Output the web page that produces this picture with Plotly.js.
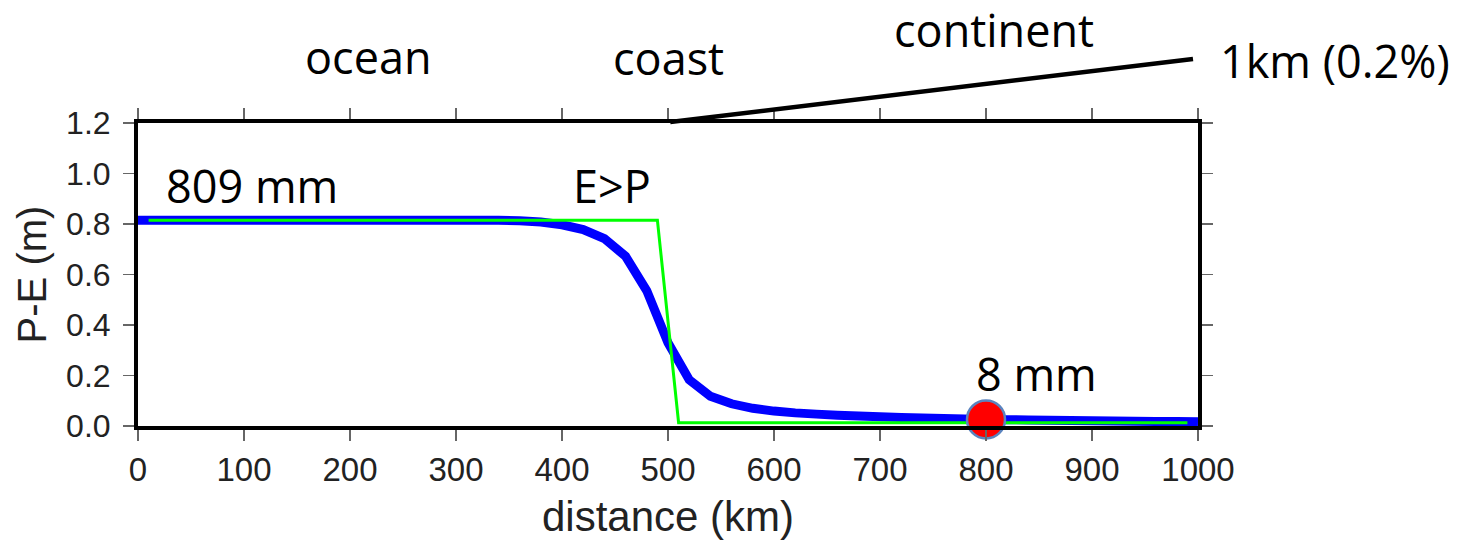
<!DOCTYPE html>
<html>
<head>
<meta charset="utf-8">
<script src="https://cdn.plot.ly/plotly-3.0.1.min.js"></script>
<style>
  html, body { margin: 0; padding: 0; background: #fff; }
  #chart { width: 1479px; height: 542px; }
</style>
</head>
<body>
<div id="chart"></div>
<script>
// ---- data ----
const distanceKm = [0, 20, 40, 60, 80, 100, 120, 140, 160, 180, 200, 220, 240, 260, 280, 300, 320, 340,
  360, 380, 400, 420, 440, 460, 480, 500, 520, 540, 560, 580, 600, 620, 640, 660, 680, 700,
  720, 740, 760, 780, 800, 820, 840, 860, 880, 900, 920, 940, 960, 980, 1000];
const pMinusE = [0.815, 0.815, 0.815, 0.815, 0.815, 0.815, 0.815, 0.815, 0.815, 0.815, 0.815, 0.815, 0.815, 0.815, 0.815, 0.815, 0.815, 0.815,
  0.813, 0.808, 0.797, 0.778, 0.742, 0.672, 0.535, 0.330, 0.183, 0.118, 0.088, 0.070, 0.059, 0.052, 0.047, 0.043, 0.040, 0.037,
  0.034, 0.032, 0.030, 0.028, 0.026, 0.025, 0.024, 0.023, 0.022, 0.021, 0.020, 0.019, 0.018, 0.018, 0.017];
const stepKm = [10, 490, 510, 990];
const stepPE = [0.815, 0.815, 0.013, 0.013];
const pointKm = [800];
const pointPE = [0.026];
const xTickVals = [0, 100, 200, 300, 400, 500, 600, 700, 800, 900, 1000];
const yTickVals = [0.0, 0.2, 0.4, 0.6, 0.8, 1.0, 1.2];

// ---- layout helpers (pixel -> paper) ----
const L = 137.5, R = 1198, T = 123, B = 426;
const px = v => (v - L) / (R - L);
const py = v => (B - v) / (B - T);
const labelFont = {family: 'Open Sans, Noto Sans, sans-serif', size: 45, color: '#000'};

const traces = [
  {x: distanceKm, y: pMinusE, type: 'scatter', mode: 'lines',
   line: {color: '#0000ff', width: 9, simplify: false}, hoverinfo: 'skip'},
  {x: stepKm, y: stepPE, type: 'scatter', mode: 'lines',
   line: {color: '#00ff00', width: 3, simplify: false}, hoverinfo: 'skip'},
  {x: pointKm, y: pointPE, type: 'scatter', mode: 'markers', cliponaxis: false,
   marker: {color: '#ff0000', size: 38, line: {color: '#5b84bf', width: 2.5}}, hoverinfo: 'skip'}
];

function ann(text, x, y) {
  return {text: text, xref: 'paper', yref: 'paper', x: x, y: y,
          xanchor: 'center', yanchor: 'middle', showarrow: false, font: labelFont};
}

const layout = {
  width: 1479, height: 542,
  margin: {l: L, r: 1479 - R, t: T, b: 542 - B, pad: 0},
  paper_bgcolor: '#fff', plot_bgcolor: '#fff',
  showlegend: false,
  xaxis: {
    range: [0, 1000], tickvals: xTickVals, ticktext: xTickVals.map(String),
    showgrid: false, zeroline: false,
    showline: true, linecolor: '#000', linewidth: 4, mirror: 'allticks',
    ticks: 'outside', ticklen: 11, tickwidth: 1.5, tickcolor: '#666',
    tickfont: {family: 'Liberation Sans, Arial, sans-serif', size: 33, color: '#222'},
    title: {text: 'distance (km)', standoff: 16,
            font: {family: 'Liberation Sans, Arial, sans-serif', size: 42, color: '#222'}},
    automargin: false
  },
  yaxis: {
    range: [0, 1.2], tickvals: yTickVals, ticktext: yTickVals.map(v => v.toFixed(1)),
    showgrid: false, zeroline: false,
    showline: true, linecolor: '#000', linewidth: 4, mirror: 'allticks',
    ticks: 'outside', ticklen: 11, tickwidth: 1.5, tickcolor: '#666',
    ticklabelstandoff: 6,
    tickfont: {family: 'Liberation Sans, Arial, sans-serif', size: 32, color: '#222'},
    title: {text: 'P-E (m)', standoff: 8,
            font: {family: 'Liberation Sans, Arial, sans-serif', size: 40, color: '#222'}},
    automargin: false
  },
  shapes: [
    {type: 'line', xref: 'paper', yref: 'paper',
     x0: px(670), y0: py(122), x1: px(1193), y1: py(59),
     line: {color: '#000', width: 4.5}}
  ],
  annotations: [
    ann('ocean', px(368), py(56)),
    ann('coast', px(668.5), py(57)),
    ann('continent', px(993.5), py(29)),
    ann('1km (0.2%)', px(1335), py(61)),
    ann('809 mm', px(251.5), py(185)),
    ann('E&gt;P', px(611.5), py(185)),
    ann('8 mm', px(1036.5), py(373))
  ]
};

Plotly.newPlot('chart', traces, layout, {staticPlot: true, displayModeBar: false});
</script>
</body>
</html>
